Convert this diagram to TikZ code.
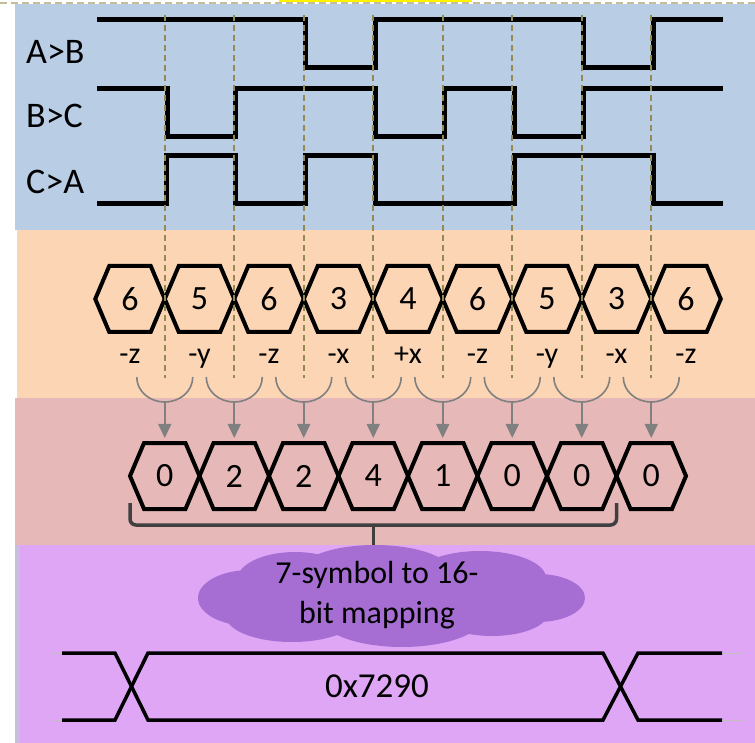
\documentclass[tikz,border=0pt]{standalone}
\usepackage{fontspec}
\setmainfont{Carlito}
\usetikzlibrary{shapes.symbols, arrows.meta}

\definecolor{bandblue}{HTML}{B9CDE5}
\definecolor{bandorange}{HTML}{FCD5B5}
\definecolor{bandpink}{HTML}{E6B9B8}
\definecolor{bandpurple}{HTML}{DEA6F4}
\definecolor{bandedge}{HTML}{C9BEDD}
\definecolor{cloudpurple}{HTML}{A66ED3}
\definecolor{guideolive}{HTML}{948A54}
\definecolor{framekhaki}{HTML}{C4BD97}

\begin{document}
\begin{tikzpicture}[x=1pt, y=-1pt,
    wave/.style={line width=5pt},
    guide/.style={guideolive, line width=2pt, dash pattern=on 6pt off 4pt},
    hexsym/.style={
        shape=signal, signal to=east and west, signal pointer angle=134,
        draw, line width=4pt, minimum width=69.5pt, minimum height=66pt,
        inner sep=0pt, outer sep=0pt, font=\fontsize{34}{34}\selectfont
      },
    siglabel/.style={anchor=west, inner sep=0pt, font=\fontsize{36}{36}\selectfont},
    dirlabel/.style={anchor=base, inner sep=0pt, font=\fontsize{30}{30}\selectfont},
    cup/.style={gray, line width=1.6pt},
    feed/.style={gray, line width=1.6pt, -{Triangle[width=13pt, length=14pt]}, shorten >=5pt},
    brace/.style={black!75, line width=3.5pt, rounded corners=6pt},
    maptext/.style={align=center, inner sep=0pt, font=\fontsize{32}{40}\selectfont},
    bus/.style={line width=3.5pt},
  ]
  \useasboundingbox (0,0) rectangle (755,743);

  % bands
  \fill[bandblue] (15,4) rectangle (755,230);
  \fill[bandorange] (17,230) rectangle (755,398);
  \fill[bandpink] (15,398) rectangle (755,545);
  \fill[bandpurple] (15,545) rectangle (755,743);
  \fill[bandedge] (15,545) rectangle (20,743);
  \fill[yellow] (279,0) rectangle (472,2.5);
  \draw[framekhaki, line width=2pt, dash pattern=on 7pt off 4pt] (0,3.5) -- (755,3.5);

  % comparator outputs
  \node[siglabel] (ab) at (26,52) {A>B};
  \node[siglabel] (bc) at (26,116) {B>C};
  \node[siglabel] (ca) at (26,182) {C>A};
  \draw[wave] (97,20) -| (305,68) -| (375,20) -| (583,68) -| (653,20) -- (723,20);
  \draw[wave] (97,89) -| (167,137) -| (235,89) -| (375,137) -| (444,89) -| (514,137) -| (583,89) -- (723,89);
  \draw[wave] (97,204) -| (166,156) -| (235,204) -| (305,156) -| (375,204) -| (514,156) -| (653,204) -- (723,204);

  % hall states and the direction of each step
  \foreach \v/\d [count=\i] in {6/-z, 5/-y, 6/-z, 3/-x, 4/+x, 6/-z, 5/-y, 3/-x, 6/-z} {
    \node[hexsym] (s\i) at ({130+69.5*(\i-1)}, 299) {\v};
    \node[dirlabel] (d\i) at ({130+69.5*(\i-1)}, 363) {\d};
  }

  % symbols taken from each pair of steps
  \foreach \v [count=\i] in {0,2,2,4,1,0,0,0} {
    \node[hexsym] (b\i) at (s\i.east |- 0,476) {\v};
    \coordinate (c\i) at (s\i.east |- 0,402);
    \draw[guide] (s\i.east |- 0,15) -- (s\i.east |- 0,378);
    \draw[cup] (c\i) ++(-28,-25) .. controls +(0,14) and +(-15.5,0) .. (c\i)
      .. controls +(15.5,0) and +(0,14) .. ++(28,-25);
    \draw[feed] (c\i) -- (b\i);
  }

  % seven symbols into one word
  \draw[brace] (b1.west |- 0,503) |- (b7.east |- 0,525) -- (b7.east |- 0,503);
  \draw[brace] (b4 |- 0,525) -- (b4 |- 0,548);
  % cloud as a union of puffs
  \fill[cloudpurple]
    (250,598) ellipse [x radius=52, y radius=28]
    (295,580) ellipse [x radius=58, y radius=28]
    (375,574) ellipse [x radius=78, y radius=29]
    (480,578) ellipse [x radius=66, y radius=27]
    (538,598) ellipse [x radius=47, y radius=24]
    (492,613) ellipse [x radius=56, y radius=23]
    (402,616) ellipse [x radius=82, y radius=31]
    (292,616) ellipse [x radius=66, y radius=26]
    (385,597) ellipse [x radius=150, y radius=30];
  \node[maptext] (map) at (377,595) {7-symbol to 16-\\bit mapping};

  \node[font=\fontsize{35}{35}\selectfont] (word) at (377,686) {0x7290};
  \draw[bus] (62,653) -- (115,653) -- (148,720) -- (603,720) -- (638,653) -- (722,653);
  \draw[bus] (62,720) -- (115,720) -- (148,653) -- (603,653) -- (638,720) -- (722,720);
  \draw[gray!50, line width=0.6pt] (52,653) -- (62,653) (52,720) -- (62,720)
    (722,653) -- (743,653) (722,720) -- (743,720);
\end{tikzpicture}
\end{document}
